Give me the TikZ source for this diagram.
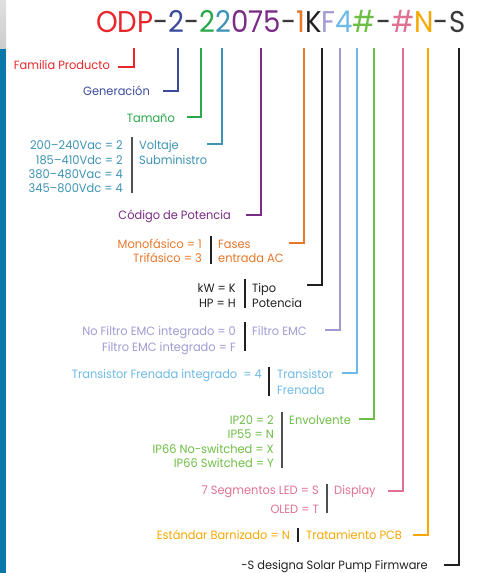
\documentclass[tikz,border=0pt]{standalone}
\usepackage{fontspec}
\setmainfont{Poppins}[FakeStretch=0.95]
\newfontfamily\titlefont{Poppins}[FakeStretch=0.92]
\definecolor{cRed}{HTML}{E8262B}
\definecolor{cNavy}{HTML}{3B4B9B}
\definecolor{cGreen}{HTML}{2AA84A}
\definecolor{cTeal}{HTML}{3D93B3}
\definecolor{cPurple}{HTML}{7A2B86}
\definecolor{cOrange}{HTML}{E8772A}
\definecolor{cBlack}{HTML}{231F20}
\definecolor{cLav}{HTML}{9F9BD1}
\definecolor{cLBlue}{HTML}{6DB9E7}
\definecolor{cLGreen}{HTML}{6DBE45}
\definecolor{cPink}{HTML}{DF7290}
\definecolor{cYellow}{HTML}{F6A800}
\definecolor{cDash}{HTML}{3A3A3A}
\definecolor{cBar}{HTML}{0A77AB}
\definecolor{cSep}{HTML}{505050}
\begin{document}
\begin{tikzpicture}[x=1pt,y=-1pt,
  lbl/.style={inner sep=0pt,font=\fontsize{12}{14}\selectfont},
  le/.style={lbl,anchor=base east},
  lw/.style={lbl,anchor=base west},
  conn/.style={line width=2.3pt},
  sepbar/.style={line width=1.1pt,draw=cSep}]
\useasboundingbox (0,0) rectangle (481,573);
% left strip
\shade[top color=white!88!black,bottom color=white!80!black] (0,0) rectangle (6,49);
\fill[cBar] (0,49) rectangle (6,573);
% title
\node[inner sep=0pt,anchor=base west,font=\titlefont\fontsize{30}{34}\selectfont] (title) at (96,32)
 {\color{cRed}ODP\color{cDash}-\color{cNavy}2\color{cDash}-\color{cGreen}2\color{cTeal}2\color{cPurple}075\color{cDash}-\color{cOrange}1\color{cBlack}K\color{cLav}F\color{cLBlue}4\color{cLGreen}\#\color{cDash}-\color{cPink}\#\color{cYellow}N\color{cDash}-S};
% Familia Producto
\node[le,text=cRed] (fam) at (110,69) {Familia Producto};
\coordinate (t1) at (134,48); \coordinate (e1) at (118,67);
\draw[conn,cRed] (t1) |- (e1);
% Generacion
\node[le,text=cNavy] (gen) at (150,95) {Generación};
\coordinate (t2) at (178,48); \coordinate (e2) at (163,91);
\draw[conn,cNavy] (t2) |- (e2);
% Tamano
\node[le,text=cGreen] (tam) at (175,122) {Tamaño};
\coordinate (t3) at (201,48); \coordinate (e3) at (187,117);
\draw[conn,cGreen] (t3) |- (e3);
% Voltaje
\node[le,text=cTeal] (v1) at (123,149) {200–240Vac = 2};
\node[le,text=cTeal] (v2) at (123,164) {185–410Vdc = 2};
\node[le,text=cTeal] (v3) at (123,178) {380–480Vac = 4};
\node[le,text=cTeal] (v4) at (123,192) {345–800Vdc = 4};
\node[lw,text=cTeal] (vr1) at (139,149) {Voltaje};
\node[lw,text=cTeal] (vr2) at (139,164) {Subministro};
\coordinate (s4a) at (132,137); \coordinate (s4b) at (132,193);
\draw[sepbar] (s4a) -- (s4b);
\coordinate (t4) at (222,48); \coordinate (e4) at (207,144);
\draw[conn,cTeal] (t4) |- (e4);
% Codigo de Potencia
\node[le,text=cPurple] (cod) at (231,219) {Código de Potencia};
\coordinate (t5) at (261,48); \coordinate (e5) at (246,215);
\draw[conn,cPurple] (t5) |- (e5);
% Fases
\node[le,text=cOrange] (f1) at (202,248) {Monofásico = 1};
\node[le,text=cOrange] (f2) at (202,262) {Trifásico = 3};
\node[lw,text=cOrange] (fr1) at (218,248) {Fases};
\node[lw,text=cOrange] (fr2) at (218,262) {entrada AC};
\coordinate (s6a) at (211,236); \coordinate (s6b) at (211,264);
\draw[sepbar,draw=cBlack] (s6a) -- (s6b);
\coordinate (t6) at (304,48); \coordinate (e6) at (289,243);
\draw[conn,cOrange] (t6) |- (e6);
% Tipo Potencia
\node[le,text=cBlack] (k1) at (236,292) {kW = K};
\node[le,text=cBlack] (k2) at (236,307) {HP = H};
\node[lw,text=cBlack] (kr1) at (252,292) {Tipo};
\node[lw,text=cBlack] (kr2) at (252,307) {Potencia};
\coordinate (s7a) at (245,279); \coordinate (s7b) at (245,308);
\draw[sepbar,draw=cBlack] (s7a) -- (s7b);
\coordinate (t7) at (322,48); \coordinate (e7) at (307,285);
\draw[conn,cBlack] (t7) |- (e7);
% Filtro EMC
\node[le,text=cLav] (m1) at (236,335) {No Filtro EMC integrado = 0};
\node[le,text=cLav] (m2) at (236,351) {Filtro EMC integrado = F};
\node[lw,text=cLav] (mr1) at (252,335) {Filtro EMC};
\coordinate (s8a) at (245,322); \coordinate (s8b) at (245,351);
\draw[sepbar,draw=cBlack] (s8a) -- (s8b);
\coordinate (t8) at (340,48); \coordinate (e8) at (325,330);
\draw[conn,cLav] (t8) |- (e8);
% Transistor Frenada
\node[le,text=cLBlue] (b1) at (262,378) {Transistor Frenada integrado\ \ = 4};
\node[lw,text=cLBlue] (br1) at (277,378) {Transistor};
\node[lw,text=cLBlue] (br2) at (277,394) {Frenada};
\coordinate (s9a) at (269,367); \coordinate (s9b) at (269,396);
\draw[sepbar,draw=cBlack] (s9a) -- (s9b);
\coordinate (t9) at (357,48); \coordinate (e9) at (342,373);
\draw[conn,cLBlue] (t9) |- (e9);
% Envolvente
\node[le,text=cLGreen] (n1) at (274,424) {IP20 = 2};
\node[le,text=cLGreen] (n2) at (274,438) {IP55 = N};
\node[le,text=cLGreen] (n3) at (274,453) {IP66 No-switched = X};
\node[le,text=cLGreen] (n4) at (274,467) {IP66 Switched = Y};
\node[lw,text=cLGreen] (nr1) at (289,424) {Envolvente};
\coordinate (s10a) at (282,412); \coordinate (s10b) at (282,468);
\draw[sepbar] (s10a) -- (s10b);
\coordinate (t10) at (374,48); \coordinate (e10) at (359,419);
\draw[conn,cLGreen] (t10) |- (e10);
% Display
\node[le,text=cPink] (d1) at (319,494) {7 Segmentos LED = S};
\node[le,text=cPink] (d2) at (319,513) {OLED = T};
\node[lw,text=cPink] (dr1) at (334,494) {Display};
\coordinate (s11a) at (327,484); \coordinate (s11b) at (327,513);
\draw[sepbar] (s11a) -- (s11b);
\coordinate (t11) at (403,48); \coordinate (e11) at (388,491);
\draw[conn,cPink] (t11) |- (e11);
% Tratamiento PCB
\node[le,text=cYellow] (p1) at (290,539) {Estándar Barnizado = N};
\node[lw,text=cYellow] (pr1) at (306,539) {Tratamiento PCB};
\coordinate (s12a) at (298,528); \coordinate (s12b) at (298,542);
\draw[sepbar,draw=cBlack] (s12a) -- (s12b);
\coordinate (t12) at (428,48); \coordinate (e12) at (413,535);
\draw[conn,cYellow] (t12) |- (e12);
% Solar
\node[le,text=cBlack] (sol) at (428,569) {-S designa Solar Pump Firmware};
\coordinate (t13) at (459,48); \coordinate (e13) at (444,565);
\draw[conn,cBlack] (t13) |- (e13);
\end{tikzpicture}
\end{document}
